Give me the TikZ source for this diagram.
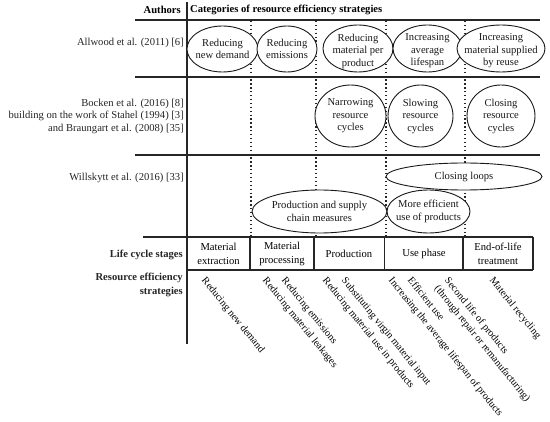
\documentclass[tikz,border=0pt]{standalone}
\usepackage{fontspec}
\setmainfont{Liberation Serif}
\usetikzlibrary{shapes.geometric}
\begin{document}
\begin{tikzpicture}[x=1pt,y=-1pt,
  font=\fontsize{10.6}{12.5}\selectfont,
  rule/.style={line width=1.3pt, draw=black!85},
  dotsep/.style={line width=1.3pt, draw=black!85, dash pattern=on 1.3pt off 2.6pt},
  ell/.style={ellipse, draw=black!90, fill=white, line width=0.9pt, inner sep=0},
  etext/.style={align=center, inner sep=0, text=black!90},
  lab/.style={anchor=east, align=right, inner sep=0, text=black!85},
  hdr/.style={font=\fontsize{10.6}{12.5}\selectfont\bfseries, inner sep=0},
  stage/.style={align=center, inner sep=0},
  rot/.style={rotate=-51, anchor=north west, inner sep=0, align=left, font=\fontsize{10.2}{13}\selectfont}]
\path[use as bounding box, fill=white] (0,0) rectangle (550,422);

% grid lines
\draw[rule] (187,2) -- (187,344);
\draw[rule] (135,20) -- (540,20);
\draw[rule] (135,77) -- (540,77);
\draw[rule] (135,155) -- (540,155);
\foreach \x in {251,316,386,465} \draw[dotsep] (\x,21) -- (\x,237);

% headers
\node[hdr, anchor=east] (authors) at (181,10) {Authors};
\node[hdr, anchor=west] (cats) at (190,10) {Categories of resource efficiency strategies};

% left labels
\node[lab] (allwood) at (184,43) {Allwood et al. (2011) [6]};
\node[lab] (bocken) at (184,116) {Bocken et al. (2016) [8]\\building on the work of Stahel (1994) [3]\\and Braungart et al. (2008) [35]};
\node[lab] (willskytt) at (184,178) {Willskytt et al. (2016) [33]};
\node[lab, font=\fontsize{10.6}{12.5}\selectfont\bfseries] (lcs) at (183,255) {Life cycle stages};
\node[lab, font=\fontsize{10.6}{13.5}\selectfont\bfseries] (res) at (183,285) {Resource efficiency\\strategies};

% row 1 ellipses
\node[ell, minimum width=71, minimum height=46] (a1) at (222.5,49) {};
\node[etext] (a1t) at (a1) {Reducing\\new demand};
\node[ell, minimum width=60, minimum height=46] (a2) at (287,49) {};
\node[etext] (a2t) at (a2) {Reducing\\emissions};
\node[ell, minimum width=70, minimum height=47] (a3) at (358,48.5) {};
\node[etext] (a3t) at (358,51) {Reducing\\material per\\product};
\node[ell, minimum width=69, minimum height=47] (a4) at (427.5,48.5) {};
\node[etext] (a4t) at (427.5,51) {Increasing\\average\\lifespan};
\node[ell, minimum width=88, minimum height=47] (a5) at (501,48.5) {};
\node[etext] (a5t) at (501,51) {Increasing\\material supplied\\by reuse};

% row 2 ellipses
\node[ell, minimum width=71, minimum height=62] (b1) at (350.5,116) {};
\node[etext] (b1t) at (b1) {Narrowing\\resource\\cycles};
\node[ell, minimum width=65, minimum height=62] (b2) at (420.5,116) {};
\node[etext] (b2t) at (b2) {Slowing\\resource\\cycles};
\node[ell, minimum width=68, minimum height=62] (b3) at (501,116) {};
\node[etext] (b3t) at (b3) {Closing\\resource\\cycles};

% row 3 ellipses
\node[ell, minimum width=156, minimum height=27] (c1) at (464,176.5) {};
\node[etext] (c1t) at (c1) {Closing loops};
\node[ell, minimum width=135, minimum height=43] (c2) at (319.5,211.5) {};
\node[etext] (c2t) at (c2) {Production and supply\\chain measures};
\node[ell, minimum width=83, minimum height=43] (c3) at (428.5,211.5) {};
\node[etext] (c3t) at (c3) {More efficient\\use of products};

% life cycle stage boxes
\draw[rule] (143,237) -- (533,237);
\draw[rule] (187,270) -- (533,270);
\foreach \x in {250,314,384.5,463,533} \draw[rule] (\x,237) -- (\x,270);
\node[stage] (s1) at (218.5,254) {Material\\[1pt]extraction};
\node[stage] (s2) at (282,254) {Material\\[1pt]processing};
\node[stage] (s3) at (349,254) {Production};
\node[stage] (s4) at (424,254) {Use phase};
\node[stage] (s5) at (498,254) {End-of-life\\[1pt]treatment};

% rotated strategies
\node[rot] (r1) at (207,276) {Reducing new demand};
\node[rot] (r2) at (268,276) {Reducing material leakages};
\node[rot] (r3) at (287,276) {Reducing emissions};
\node[rot] (r4) at (328,276) {Reducing material use in products};
\node[rot] (r5) at (347,276) {Substituting virgin material input};
\node[rot] (r6) at (394,276) {Increasing the average lifespan of products};
\node[rot] (r7) at (413,276) {Efficient use};
\node[rot] (r8) at (450,276) {Second life of products\\(through repair or remanufacturing)};
\node[rot] (r9) at (495,276) {Material recycling};
\end{tikzpicture}
\end{document}
